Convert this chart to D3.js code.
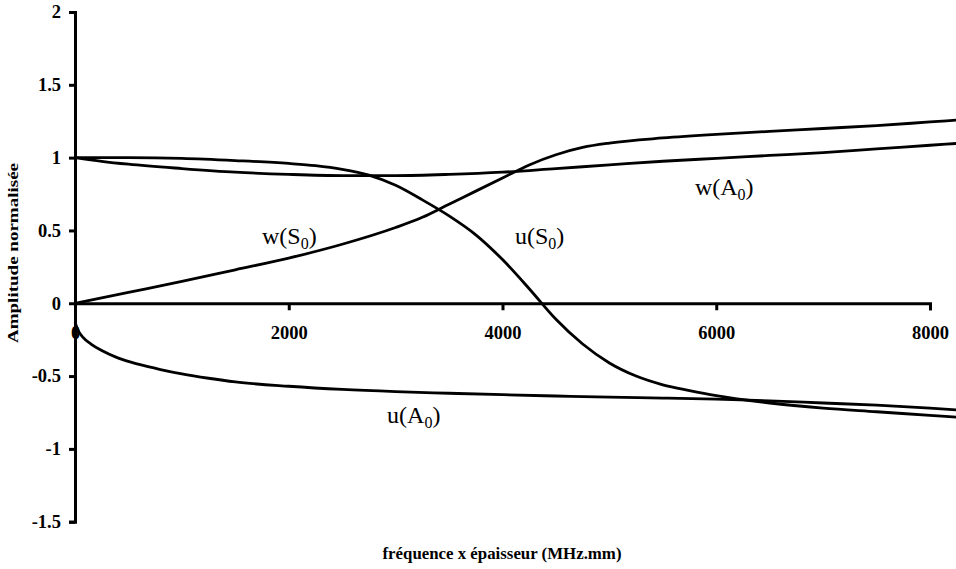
<!DOCTYPE html>
<html>
<head>
<meta charset="utf-8">
<script src="https://cdn.jsdelivr.net/npm/d3@7"></script>
<style>
  html, body { margin: 0; padding: 0; background: #fff; }
  svg { display: block; }
  text { font-family: "Liberation Serif", "Times New Roman", serif; }
</style>
</head>
<body>
<svg id="chart" width="956" height="569"></svg>
<script>
// ---- Data ----
const xTicks = [0, 2000, 4000, 6000, 8000];
const yTicks = [-1.5, -1, -0.5, 0, 0.5, 1, 1.5, 2];
const xTitle = "fréquence x épaisseur (MHz.mm)";
const yTitle = "Amplitude normalisée";

const wS0 = [[0,0],[500,0.075],[1000,0.15],[1500,0.23],[2000,0.31],[2500,0.405],[3000,0.52],[3250,0.59],[3500,0.68],[3750,0.77],[4000,0.86],[4250,0.95],[4500,1.02],[4750,1.07],[5000,1.10],[5500,1.135],[6000,1.16],[6500,1.18],[7000,1.20],[7500,1.22],[8000,1.245],[8300,1.26]];
const wA0 = [[0,1.0],[250,0.975],[500,0.955],[1000,0.925],[1500,0.90],[2000,0.885],[2500,0.877],[3000,0.877],[3500,0.885],[4000,0.90],[4500,0.925],[5000,0.95],[5500,0.975],[6000,0.995],[6500,1.015],[7000,1.035],[7500,1.06],[8000,1.085],[8300,1.10]];
const uS0 = [[0,1.0],[500,1.0],[1000,0.995],[1500,0.98],[2000,0.96],[2250,0.945],[2500,0.92],[2750,0.88],[3000,0.81],[3250,0.71],[3500,0.60],[3750,0.47],[4000,0.30],[4250,0.10],[4500,-0.11],[4750,-0.28],[5000,-0.41],[5250,-0.50],[5500,-0.56],[5750,-0.60],[6000,-0.635],[6500,-0.685],[7000,-0.72],[7500,-0.745],[8000,-0.77],[8300,-0.785]];
const uA0 = [[0,-0.13],[25,-0.18],[75,-0.235],[150,-0.28],[250,-0.325],[400,-0.375],[600,-0.42],[800,-0.455],[1000,-0.485],[1250,-0.515],[1500,-0.54],[2000,-0.57],[2500,-0.592],[3000,-0.607],[3500,-0.618],[4000,-0.628],[4500,-0.637],[5000,-0.645],[5500,-0.651],[6000,-0.658],[6500,-0.67],[7000,-0.685],[7500,-0.70],[8000,-0.72],[8300,-0.735]];

const series = [wS0, wA0, uS0, uA0];
// curve labels: [main, subscript, x, y] in data units
const curveLabels = [
  ["w(S", "0", 1750, 0.41],
  ["u(S", "0", 4117, 0.41],
  ["w(A", "0", 5800, 0.74],
  ["u(A", "0", 2920, -0.82]
];

// ---- Chart ----
const svg = d3.select("#chart");
const x = d3.scaleLinear().domain([0, 8000]).range([75, 930]);
const y = d3.scaleLinear().domain([-1.5, 2]).range([521.7, 12]);

// y axis
const gy = svg.append("g").attr("transform", `translate(${x(0)},0)`)
  .call(d3.axisLeft(y).tickValues(yTicks).tickSize(6).tickSizeOuter(6).tickPadding(8)
    .tickFormat(d => String(d)));
gy.attr("font-family", null);
gy.select(".domain").attr("stroke", "#000").attr("stroke-width", 3);
gy.selectAll(".tick line").attr("stroke", "#000").attr("stroke-width", 3);
gy.selectAll(".tick text").attr("font-size", 18.5).attr("font-weight", "bold")
  .attr("fill", "#000").style("font-family", "'Liberation Serif', serif");

// x axis at y = 0
const gx = svg.append("g").attr("transform", `translate(0,${y(0)})`)
  .call(d3.axisBottom(x).tickValues(xTicks).tickSize(7).tickSizeOuter(7).tickPadding(16)
    .tickFormat(d => String(d)));
gx.attr("font-family", null);
gx.select(".domain").attr("stroke", "#000").attr("stroke-width", 3);
gx.selectAll(".tick line").attr("stroke", "#000").attr("stroke-width", 3);
gx.selectAll(".tick text").attr("font-size", 18.5).attr("font-weight", "bold")
  .attr("fill", "#000").style("font-family", "'Liberation Serif', serif");

// curves
const line = d3.line().x(d => x(d[0])).y(d => y(d[1])).curve(d3.curveMonotoneX);
svg.append("g").selectAll("path").data(series).join("path")
  .attr("d", line).attr("fill", "none").attr("stroke", "#000")
  .attr("stroke-width", 2.8).attr("stroke-linejoin", "round");

// curve labels
curveLabels.forEach(([main, sub, lx, ly]) => {
  const t = svg.append("text").attr("x", x(lx)).attr("y", y(ly))
    .attr("font-size", 24).attr("fill", "#000");
  t.append("tspan").text(main);
  t.append("tspan").attr("font-size", 16).attr("dy", 5).text(sub);
  t.append("tspan").attr("dy", -5).text(")");
});

// axis titles
svg.append("text").attr("x", 502).attr("y", 559).attr("text-anchor", "middle")
  .attr("font-size", 16.5).attr("font-weight", "bold").attr("fill", "#000")
  .attr("textLength", 239).attr("lengthAdjust", "spacingAndGlyphs").text(xTitle);

svg.append("text").attr("transform", "translate(18,253) rotate(-90)")
  .attr("text-anchor", "middle").attr("font-size", 15).attr("font-weight", "bold")
  .attr("fill", "#000").attr("textLength", 180).attr("lengthAdjust", "spacingAndGlyphs").text(yTitle);
</script>
</body>
</html>
